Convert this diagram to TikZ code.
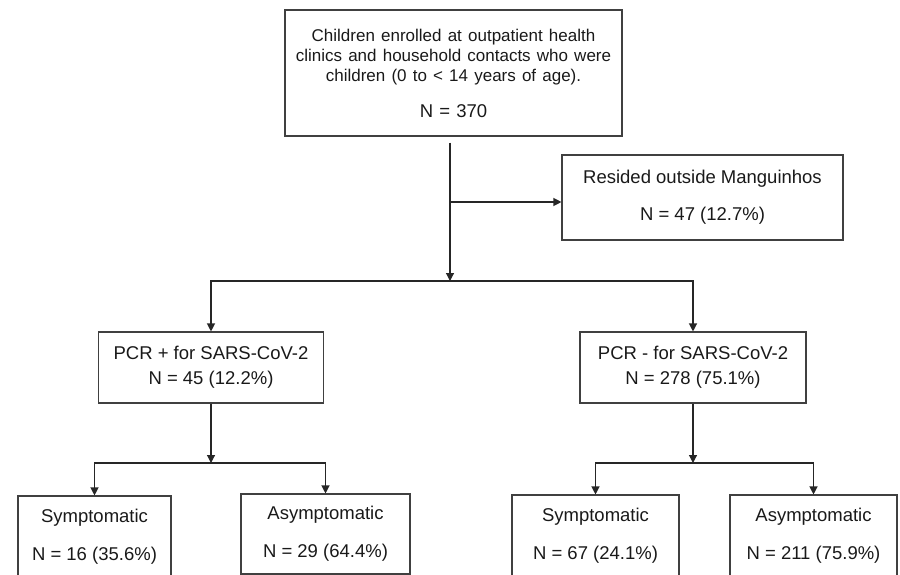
\documentclass[tikz,border=0pt]{standalone}
\usepackage{fontspec}
\setmainfont{Liberation Sans}
\usetikzlibrary{arrows.meta}

\tikzset{
  box/.style={draw=black!75, line width=1.1pt, align=center, inner sep=0pt,
    text=black!90, font=\fontsize{18.5}{25}\selectfont},
  conn/.style={draw=black!85, line width=1.2pt},
  tip/.style={-{Triangle[length=8pt,width=8pt]}}
}

\begin{document}
\begin{tikzpicture}[x=1pt, y=-1pt]
\path[use as bounding box] (0,0) rectangle (900,575);
\clip (0,0) rectangle (900,575);

% boxes
\node[box, text width=330pt, minimum width=337pt, minimum height=126pt] (all) at (453.5,73)
  {\fontsize{17}{20}\selectfont Children enrolled at outpatient health\\ clinics and household contacts who were\\ children (0 to < 14 years of age).\par
   \vspace{11pt}\fontsize{18.5}{25}\selectfont N = 370};
\node[box, minimum width=281pt, minimum height=85pt] (outside) at (702.5,197.5)
  {Resided outside Manguinhos\\[12pt] N = 47 (12.7\%)};
\node[box, minimum width=225pt, minimum height=71pt] (pos) at (211,367.5)
  {PCR + for SARS-CoV-2\\ N = 45 (12.2\%)};
\node[box, minimum width=226pt, minimum height=71pt] (neg) at (693,367.5)
  {PCR - for SARS-CoV-2\\ N = 278 (75.1\%)};
\node[box, minimum width=153pt, minimum height=81pt] (possym) at (94.5,536.5)
  {Symptomatic\\[13pt] N = 16 (35.6\%)};
\node[box, minimum width=169pt, minimum height=80pt] (posasym) at (325.5,534)
  {Asymptomatic\\[13pt] N = 29 (64.4\%)};
\node[box, minimum width=167pt, minimum height=82pt] (negsym) at (595.5,536)
  {Symptomatic\\[13pt] N = 67 (24.1\%)};
\node[box, minimum width=167pt, minimum height=82pt] (negasym) at (813.5,536)
  {Asymptomatic\\[13pt] N = 211 (75.9\%)};

% junctions
\coordinate (split) at (450,202);
\coordinate (fork) at (450,281);
\coordinate (posfork) at (211,463);
\coordinate (negfork) at (693,463);

% connectors
\draw[conn, tip] ([yshift=-6pt]all.south -| fork) -- (fork);
\draw[conn, tip] (split) -- (outside.west |- split);
\draw[conn, tip] (fork) -| (pos.north);
\draw[conn, tip] (fork) -| (neg.north);

\draw[conn, tip] (pos.south) -- (posfork);
\draw[conn, tip] (posfork) -| (possym.north);
\draw[conn, tip] (posfork) -| (posasym.north);

\draw[conn, tip] (neg.south) -- (negfork);
\draw[conn, tip] (negfork) -| (negsym.north);
\draw[conn, tip] (negfork) -| (negasym.north);
\end{tikzpicture}
\end{document}
